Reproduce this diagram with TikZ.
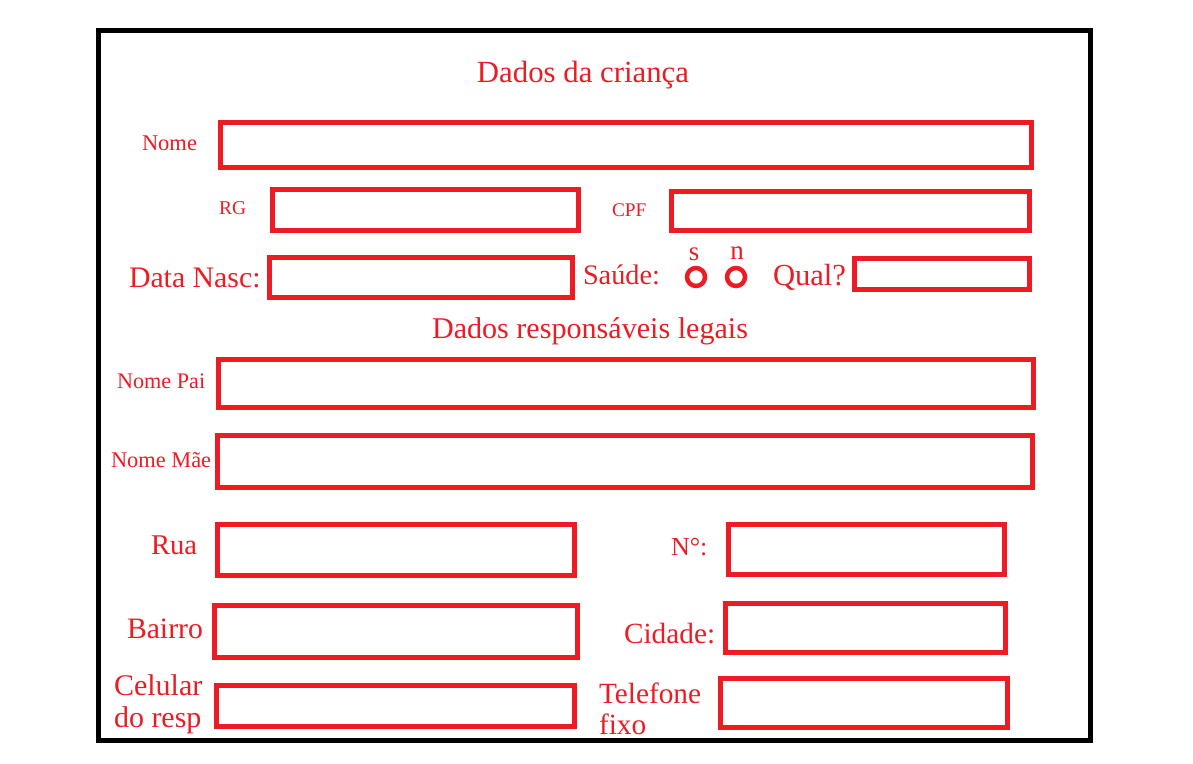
\documentclass[tikz,border=0pt]{standalone}
\usepackage{fontspec}
\setmainfont{Liberation Serif}
\definecolor{formred}{RGB}{237,28,36}
\newcommand\myfs[1]{\fontsize{#1}{#1}\selectfont}
\tikzset{
  field/.style={draw=formred, line width=5pt, inner sep=0pt, outer sep=0pt, anchor=north west, rectangle},
  lbl/.style={text=formred, inner sep=0pt, outer sep=0pt, anchor=base west},
  ring/.style={circle, draw=formred, line width=4.5pt, minimum size=18pt, inner sep=0pt, outer sep=0pt}
}
\begin{document}
\begin{tikzpicture}[x=1pt,y=-1pt]
\useasboundingbox (0,0) rectangle (1193,763);
\fill[white] (0,0) rectangle (1193,763);
\node[draw=black, line width=5pt, inner sep=0pt, outer sep=0pt, anchor=north west, minimum width=991.5pt, minimum height=710pt] (frame) at (98.5,30.5) {};

% titles
\node[lbl, anchor=base] (t1) at (583,82) {\myfs{30.8}Dados da criança};
\node[lbl, anchor=base] (t2) at (590,338) {\myfs{30.1}Dados responsáveis legais};

% fields
\node[field, minimum width=811.5pt, minimum height=45.5pt] (nome) at (220,122) {};
\node[field, minimum width=305.5pt, minimum height=41pt] (rg) at (272.5,189.5) {};
\node[field, minimum width=358pt, minimum height=39pt] (cpf) at (671.5,191.5) {};
\node[field, minimum width=303pt, minimum height=40pt] (nasc) at (269.5,257.5) {};
\node[field, minimum width=175pt, minimum height=31.5pt] (qual) at (854.5,258) {};
\node[field, minimum width=815.5pt, minimum height=48pt] (pai) at (218,359.5) {};
\node[field, minimum width=815.5pt, minimum height=52pt] (mae) at (217,435.5) {};
\node[field, minimum width=357pt, minimum height=51pt] (rua) at (217.5,524.5) {};
\node[field, minimum width=276pt, minimum height=50pt] (num) at (728.5,524.5) {};
\node[field, minimum width=363pt, minimum height=52pt] (bairro) at (214.5,605.5) {};
\node[field, minimum width=280pt, minimum height=49pt] (cidade) at (725.5,603.5) {};
\node[field, minimum width=358pt, minimum height=41pt] (cel) at (216.5,685.5) {};
\node[field, minimum width=287pt, minimum height=49pt] (tel) at (720.5,678.5) {};

% radio rings
\node[ring] (rs) at (696,277) {};
\node[ring] (rn) at (736,277) {};

% labels
\node[lbl] (lnome) at (142,150) {\myfs{22.5}Nome};
\node[lbl] (lrg) at (219,214) {\myfs{19.5}RG};
\node[lbl] (lcpf) at (612,216) {\myfs{19.3}CPF};
\node[lbl] (lnasc) at (129,287) {\myfs{29.8}Data Nasc:};
\node[lbl] (lsaude) at (583,284) {\myfs{28.3}Saúde:};
\node[lbl, anchor=base] (ls) at (694,260) {\myfs{27}s};
\node[lbl, anchor=base] (ln) at (737,259) {\myfs{27}n};
\node[lbl] (lqual) at (773,285) {\myfs{30.6}Qual?};
\node[lbl] (lpai) at (117,388) {\myfs{22.2}Nome Pai};
\node[lbl] (lmae) at (111,467) {\myfs{22.4}Nome Mãe};
\node[lbl] (lrua) at (151,554) {\myfs{28.6}Rua};
\node[lbl] (lnum) at (671,555) {\myfs{26}N°:};
\node[lbl] (lbairro) at (127,638) {\myfs{29.7}Bairro};
\node[lbl] (lcidade) at (624,643) {\myfs{29.3}Cidade:};
\node[lbl] (lcel) at (114,695) {\fontsize{30}{32}\selectfont\begin{tabular}[t]{@{}l@{}}Celular\\do resp\end{tabular}};
\node[lbl] (ltel) at (599,703) {\fontsize{29.3}{31}\selectfont\begin{tabular}[t]{@{}l@{}}Telefone\\fixo\end{tabular}};
\end{tikzpicture}
\end{document}
